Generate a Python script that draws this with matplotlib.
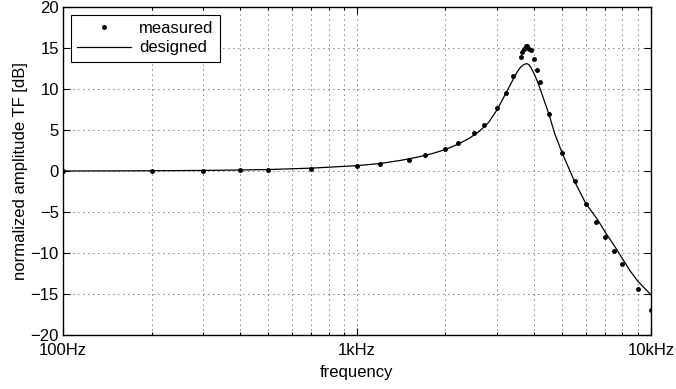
import numpy as np
import matplotlib
matplotlib.use('Agg')
import matplotlib.pyplot as plt
from matplotlib.ticker import LogLocator, FixedLocator, NullFormatter

plt.rcParams['font.family'] = ['Liberation Sans', 'DejaVu Sans']
plt.rcParams['font.size'] = 12

# measured points (Hz, dB)
f_meas = [100, 200, 300, 400, 500, 700, 1000, 1200, 1500, 1700, 2000, 2200, 2500, 2700,
          3000, 3200, 3400, 3600, 3650, 3700, 3750, 3800, 3850, 3900, 4000, 4100, 4200,
          4500, 5000, 5500, 6000, 6500, 7000, 7500, 8000, 9000, 10000]
a_meas = [0.0, 0.0, 0.03, 0.08, 0.12, 0.3, 0.65, 0.9, 1.4, 1.9, 2.65, 3.4, 4.6, 5.6,
          7.7, 9.5, 11.6, 13.9, 14.5, 14.9, 15.2, 15.2, 14.9, 14.7, 13.7, 12.3, 10.8,
          6.95, 2.15, -1.26, -4.0, -6.2, -8.1, -9.8, -11.4, -14.35, -16.9]

# designed response (Hz, dB)
f_des = [100, 200, 300, 400, 500, 700, 1000, 1200, 1400, 1600, 1800, 2000, 2200, 2400,
         2600, 2800, 3000, 3200, 3400, 3500, 3600, 3700, 3780, 3850, 3900, 4000, 4100,
         4200, 4350, 4500, 4700, 5000, 5500, 6000, 6600, 7000, 7500, 8000, 8500, 9000, 10000]
a_des = [0.0, 0.03, 0.07, 0.12, 0.18, 0.35, 0.65, 0.92, 1.28, 1.68, 2.12, 2.62, 3.25, 3.95,
         4.8, 5.9, 7.5, 9.4, 11.2, 12.05, 12.65, 13.0, 13.1, 12.95, 12.65, 11.9, 11.0,
         10.0, 8.4, 6.9, 4.6, 2.1, -1.3, -3.95, -6.0, -7.5, -9.1, -10.7, -12.2, -13.4, -15.1]

xticks = [100, 1000, 10000]
xlabels = ['100Hz', '1kHz', '10kHz']
yticks = [-20, -15, -10, -5, 0, 5, 10, 15, 20]

fig = plt.figure(figsize=(6.76, 3.89), dpi=100)
ax = fig.add_axes([0.0932, 0.1388, 0.8698, 0.8432])

ax.semilogx(f_meas, a_meas, 'k.', markersize=5, label='measured')
ax.semilogx(f_des, a_des, 'k-', linewidth=0.9, label='designed')

ax.set_xlim(100, 10000)
ax.set_ylim(-20, 20)
ax.xaxis.set_major_locator(FixedLocator(xticks))
ax.set_xticklabels(xlabels)
ax.xaxis.set_minor_locator(LogLocator(base=10, subs=np.arange(2, 10), numticks=20))
ax.xaxis.set_minor_formatter(NullFormatter())
ax.set_yticks(yticks)
ax.set_yticklabels([str(v).replace('-', '\u2212') for v in yticks])

ax.grid(True, which='major', color='black', linestyle=(0, (1, 5)), linewidth=0.6)
ax.grid(True, which='minor', axis='x', color='black', linestyle=(0, (1, 5)), linewidth=0.6)

ax.tick_params(which='both', direction='in', top=True, right=True, width=0.8)
ax.tick_params(which='major', length=5)
ax.tick_params(axis='x', which='major', pad=6)
ax.tick_params(axis='y', which='major', pad=3)
ax.tick_params(which='minor', length=2.5)
for s in ax.spines.values():
    s.set_linewidth(1.0)

ax.set_xlabel('frequency', labelpad=5)
ax.set_ylabel('normalized amplitude TF [dB]', fontsize=12, labelpad=2)

leg = ax.legend(loc='upper left', fancybox=False, edgecolor='black', framealpha=1,
                handlelength=3.2, handletextpad=0.5, borderaxespad=0.45,
                borderpad=0.4, labelspacing=0.25)
leg.get_frame().set_linewidth(0.8)

fig.savefig('out.png', dpi=100)
